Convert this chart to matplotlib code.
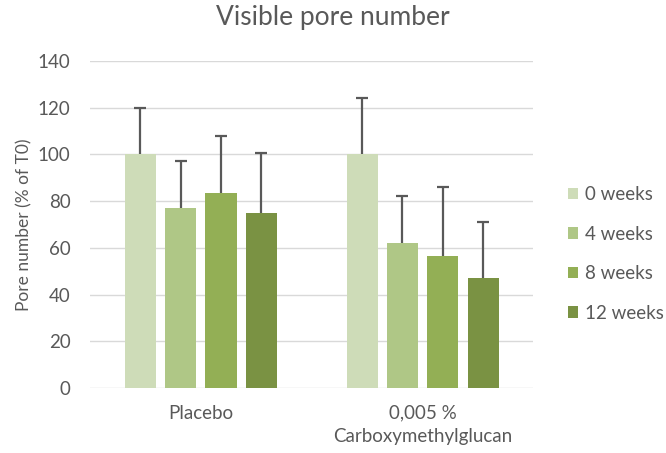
import matplotlib.pyplot as plt
import numpy as np

plt.rcParams['font.family'] = ['Lato', 'DejaVu Sans']

groups = ['Placebo', '0,005 %\nCarboxymethylglucan']
series = ['0 weeks', '4 weeks', '8 weeks', '12 weeks']
means = [
    [100, 100],
    [77, 62],
    [83.5, 56.5],
    [75, 47],
]
errs = [
    [20, 24],
    [20, 20],
    [24.5, 29.5],
    [25.5, 24],
]
colors = ['#CEDCB8', '#AFC786', '#93AF55', '#7A9243']
grey = '#595959'

fig = plt.figure(figsize=(6.66, 4.53), dpi=100)
ax = fig.add_axes([0.135, 0.1435, 0.666, 0.722])

x = np.arange(len(groups))
width = 0.14
step = 0.182
for i, name in enumerate(series):
    pos = x + (i - 1.5) * step
    m = np.array(means[i])
    top = m + np.array(errs[i])
    ax.bar(pos, m, width, color=colors[i], label=name, zorder=3)
    # upper error bar only
    ax.vlines(pos, m, top, color=grey, linewidth=1.6, zorder=4)
    ax.plot(pos, top, linestyle='none', marker='_', markersize=8,
            markeredgewidth=1.6, color=grey, zorder=4)

ax.set_xlim(-0.5, 1.5)
ax.set_ylim(0, 140)
ax.set_yticks(range(0, 141, 20))
ax.set_xticks(x)
ax.set_xticklabels(groups, linespacing=1.45)
ax.grid(axis='y', color='#D9D9D9', linewidth=1, zorder=0)
for s in ax.spines.values():
    s.set_visible(False)
ax.tick_params(length=0, colors=grey, labelsize=13.5)
ax.tick_params(axis='y', pad=14)
ax.tick_params(axis='x', pad=12)
ax.set_ylabel('Pore number (% of T0)', color=grey, fontsize=12.5, labelpad=4)
fig.suptitle('Visible pore number', color=grey, fontsize=19, y=0.99)

ax.legend(loc='center left', bbox_to_anchor=(1.04, 0.41), frameon=False,
          labelcolor=grey, fontsize=13.5, handlelength=0.55, handleheight=0.55,
          handletextpad=0.35, labelspacing=1.2)

fig.savefig('out.png', dpi=100)
